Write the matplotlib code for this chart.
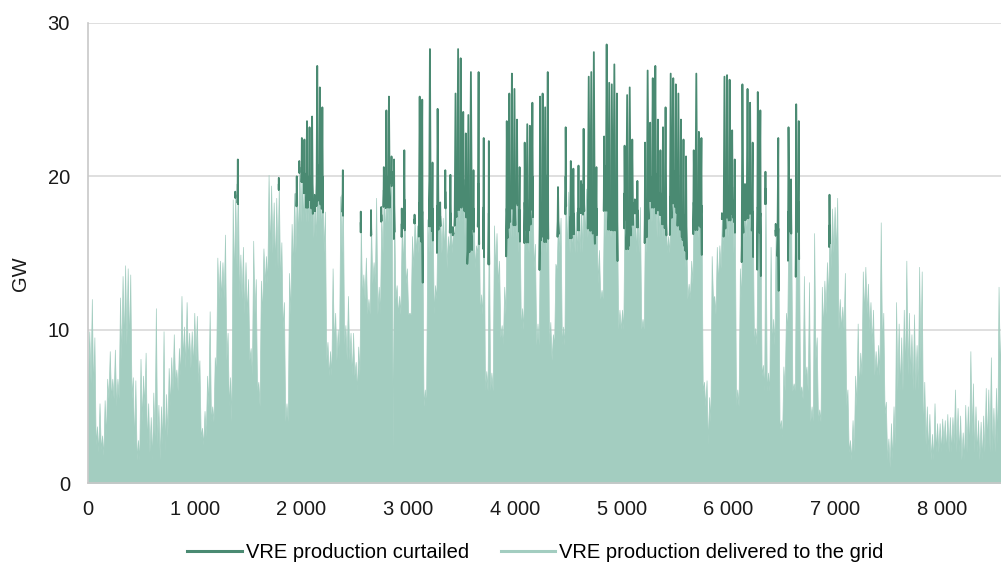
import numpy as np
import matplotlib
matplotlib.use("Agg")
import matplotlib.pyplot as plt
from matplotlib.collections import PolyCollection
from matplotlib.lines import Line2D
from matplotlib.ticker import FuncFormatter

plt.rcParams['font.family'] = ['Liberation Sans', 'DejaVu Sans']

# Daily peak of VRE production delivered to the grid (GW), one value per day
delivered_peak = [
    9.9, 12.0, 9.5, 3.7, 5.2, 3.1, 5.4, 6.8, 8.6, 6.8, 8.7, 6.8, 12.1, 13.5, 14.2, 14.0, 13.6, 6.9, 6.7, 2.8,
    8.1, 7.0, 8.5, 5.2, 4.3, 5.9, 11.4, 5.1, 5.0, 9.9,
    5.8, 7.5, 8.2, 9.7, 7.4, 8.8, 12.2, 10.2, 11.8, 9.8, 9.9, 11.1, 10.9, 8.0, 3.6, 4.7, 7.0, 11.2, 5.0, 8.2,
    14.7, 14.5, 14.4, 16.2, 9.8, 6.9, 18.5, 18.8, 19.5, 14.9, 15.4,
    14.4, 13.3, 8.8, 15.8, 13.3, 6.6, 13.2, 15.3, 14.8, 20.1, 19.4, 18.3, 18.6, 19.5, 15.7, 11.8, 5.2, 13.7,
    16.9, 18.9, 18.9, 20.6, 20.8, 20.2, 19.5, 20.0, 19.5, 18.2, 20.8, 20.6, 20.0,
    17.7, 9.2, 8.6, 14.0, 11.1, 10.0, 18.7, 18.8, 10.3, 12.2, 9.8, 9.8, 7.9, 8.9, 17.0, 13.6, 14.7, 12.0,
    16.9, 14.4, 18.6, 12.8, 17.5, 19.1, 20.0, 19.8, 20.3, 18.3, 12.9, 12.2, 16.9, 18.5,
    14.0, 11.1, 16.1, 17.2, 16.8, 18.3, 17.7, 6.1, 17.2, 19.8, 17.9, 12.9, 18.1, 17.4, 17.3, 19.0, 16.1,
    17.6, 16.4, 18.7, 20.0, 20.2, 19.8, 19.4, 15.7, 16.5, 17.9, 15.5, 19.5, 12.3, 18.0,
    7.3, 17.6, 7.2, 16.8, 16.3, 14.5, 10.3, 12.8, 17.9, 19.1, 20.5, 18.8, 20.2, 17.8, 11.4, 18.3, 17.4,
    18.5, 20.0, 15.6, 10.4, 17.9, 18.3, 17.6, 20.1, 10.5, 9.7, 14.3, 17.3, 17.3, 10.2, 20.0,
    19.0, 17.4, 17.6, 17.7, 17.9, 18.5, 19.5, 19.2, 18.5, 18.2, 17.8, 17.9, 15.2, 12.6, 19.8, 20.7, 18.3,
    18.2, 18.3, 18.3, 11.3, 11.3, 18.9, 16.6, 17.2, 18.3, 18.0, 17.8, 18.0, 10.7, 18.3,
    18.5, 20.0, 20.0, 20.2, 19.7, 18.9, 18.5, 18.3, 16.1, 18.7, 20.4, 20.0, 18.7, 18.0, 17.5, 16.9, 13.0,
    14.5, 18.3, 18.3, 18.3, 18.1, 6.6, 6.7, 5.6, 14.8, 12.2, 15.4, 15.5, 17.4, 18.5,
    19.7, 19.4, 19.3, 18.5, 6.1, 14.0, 17.8, 18.0, 19.5, 19.7, 17.7, 10.1, 18.0, 17.6, 7.7, 19.2, 7.2,
    15.4, 10.7, 16.5, 16.6, 4.1, 7.6, 11.1, 17.7, 17.9, 6.5, 17.8, 18.3, 6.3, 13.5, 7.6,
    13.1, 5.0, 16.3, 9.5, 4.8, 12.8, 13.2, 14.4, 16.8, 17.9, 18.0, 18.6, 12.0, 11.5, 13.7, 6.1, 2.8, 4.1,
    7.0, 10.4, 8.5, 13.8, 14.1, 13.0, 11.8, 11.3, 8.6, 9.0, 17.0, 11.1,
    5.3, 2.9, 3.9, 5.0, 11.8, 10.4, 9.5, 11.3, 14.5, 11.1, 9.7, 11.0, 9.0, 14.1, 13.8, 6.6, 5.0, 4.5, 3.2,
    5.2, 3.9, 3.9, 4.2, 4.1, 4.5, 4.3, 4.3, 6.1, 4.9, 4.4, 3.3, 5.1, 5.0, 8.6, 6.5, 5.0, 4.1, 4.0, 4.4,
    6.2, 6.1, 8.2, 4.9, 6.2, 12.8, 11.4, 7.6,
]

# Lowest delivered production between one day's peak and the next (GW)
night_low = [
    6.5, 6.0, 2.5, 2.0, 2.2, 1.8, 3.0, 5.5, 5.5, 5.5, 5.0, 5.5, 8.0, 9.0, 9.0, 9.0, 5.5, 2.5, 1.5, 1.5,
    4.0, 5.0, 2.5, 2.0, 1.5, 3.0, 2.5, 1.5, 2.5, 2.0,
    3.0, 5.0, 6.0, 6.5, 6.0, 7.0, 8.0, 7.5, 8.0, 7.5, 7.5, 8.0, 6.5, 3.0, 2.5, 3.0, 5.0, 4.0, 4.0, 7.0,
    12.0, 12.0, 12.0, 8.0, 5.0, 4.0, 13.0, 14.0, 12.0, 12.0, 11.0,
    11, 8, 7, 11, 6, 5, 11, 13, 13, 15, 15, 14, 14, 13, 10, 4, 4, 11, 14, 15, 16, 17, 17, 17, 17, 17,
    16, 16, 17, 16, 15,
    8, 7, 7, 9, 8, 8, 15, 9, 8, 8, 7, 7, 6, 7, 12, 12, 11, 11, 13, 13, 11, 11, 15, 16, 17, 17, 2, 12,
    11, 11, 14, 13,
    11, 11, 14, 15, 15, 15, 5, 5, 15, 15, 11, 12, 16, 15, 15, 14, 15, 15, 16, 17, 17, 17, 16, 14, 15,
    15, 14, 15, 11, 11, 6,
    6, 6, 6, 14, 13, 9.5, 9, 11, 15, 16, 16, 16, 15, 10, 10, 15, 15, 16, 14, 9, 9, 15, 15, 15, 9, 8, 9,
    14, 15, 9, 9, 15,
    15, 15, 15, 15, 15, 15, 16, 16, 16, 16, 15, 13, 12, 12, 16, 16, 16, 16, 16, 10, 10, 10, 15, 15, 16,
    16, 15, 15, 10, 10, 15,
    17, 17, 17, 16, 16, 16, 16, 15, 15, 17, 17, 16, 16, 15, 14, 12, 12, 13, 16, 16, 16, 6, 5, 2.5, 4,
    12, 11, 13, 14, 15, 16,
    16, 16, 15, 5, 5, 12, 16, 16, 16, 16, 9, 9, 16, 7, 6, 6, 6, 9, 9, 14, 3.5, 3, 6, 10, 16, 6, 6, 16,
    6, 5.5, 7, 6,
    4, 4, 8, 4, 4, 10, 11, 12, 14, 15, 15, 10, 10, 10, 5, 2, 1.5, 2, 5, 6, 7, 11, 11, 10, 9, 7, 7, 7, 9,
    4.5,
    1.5, 1.0, 1.5, 2.5, 6, 6, 6, 7, 7, 7, 6, 6, 6, 8, 3, 2.5, 2, 1.5, 1.5, 2, 2, 2, 2.5, 2, 2, 2, 2.5, 2,
    2, 1.5, 1.5, 2, 2, 3, 2, 2, 1.5, 1.5, 2, 2.5, 2, 2, 2, 2.5, 7, 5, 3,
]

# Days with curtailment and the curtailed amount at the daily peak (GW)
curtailed_day = [
    57, 58, 74, 81, 82, 83, 84, 85, 86, 87, 88, 89, 90, 91, 99, 106, 110, 114, 115, 116, 117, 118, 119,
    122, 123, 127, 129, 130, 133, 134, 136, 137, 139, 141, 142, 143, 144, 145, 146, 147, 148, 149, 150,
    152, 154, 156, 163, 164, 165, 166, 167, 168, 170, 171, 172, 173, 176, 177, 178, 179, 183, 186, 188,
    189, 191, 192, 193, 195, 196, 197, 198, 201, 202, 203, 204, 205, 206, 209, 210, 211, 212, 213, 214,
    217, 218, 219, 220, 221, 222, 223, 224, 225, 227, 228, 229, 230, 231, 232, 233, 236, 237, 238, 239,
    247, 248, 249, 250, 251, 252, 255, 256, 257, 258, 259, 261, 262, 264, 268, 269, 273, 274, 276, 277,
    289,
]
curtailed_peak = [
    0.2, 1.6, 0.4, 1.1, 0.4, 1.7, 2.2, 4.1, 3.2, 4.4, 0.6, 6.4, 5.2, 4.5, 1.6, 0.7, 0.9, 0.5, 1.5, 4.3,
    5.4, 1.0, 2.8, 1.0, 3.2, 0.3, 6.9, 7.3, 8.5, 3.0, 6.3, 0.9, 1.4, 2.5, 0.3, 6.7, 8.3, 7.5, 4.4, 3.4,
    8.3, 10.3, 2.5, 7.3, 4.5, 4.7, 5.7, 6.3, 6.2, 6.9, 3.5, 2.8, 3.9, 6.0, 4.8, 4.8, 7.3, 7.1, 6.9, 6.7,
    2.0, 3.2, 3.6, 2.9, 2.8, 1.2, 3.6, 8.0, 8.6, 10.3, 2.7, 2.8, 7.9, 7.8, 7.8, 9.0, 7.1, 3.1, 8.7, 8.6,
    4.1, 0.5, 1.9, 3.9, 8.4, 3.5, 6.4, 7.0, 4.0, 2.8, 4.7, 6.2, 8.0, 6.0, 6.0, 6.7, 5.7, 4.9, 4.4, 3.4,
    8.4, 4.6, 4.4, 0.2, 8.0, 6.9, 6.9, 3.7, 2.6, 8.2, 1.5, 6.2, 5.1, 4.5, 7.5, 6.7, 1.1, 0.4, 5.9, 5.5,
    1.9, 6.9, 5.3, 2.0,
]

x_ticks = [0, 1000, 2000, 3000, 4000, 5000, 6000, 7000, 8000]
y_ticks = [0, 10, 20, 30]
series_names = ["VRE production curtailed", "VRE production delivered to the grid"]

DARK = "#4a8a72"
LIGHT = "#a3cdc0"
GRID = "#d9d9d9"
TEXT = "#1a1a1a"
FS = 14.5

# Hourly positions: a peak at midday, a trough at midnight
n = len(delivered_peak)
day = np.arange(n)
hours = np.empty(2 * n + 1)
hours[0] = 0
hours[1::2] = day * 24 + 12
hours[2::2] = day * 24 + 24
delivered = np.empty(2 * n + 1)
delivered[0] = night_low[0]
delivered[1::2] = delivered_peak
delivered[2::2] = night_low

fig = plt.figure(figsize=(10.01, 5.65), dpi=100)
ax = fig.add_axes([0.0879, 0.1451, 0.9121, 0.8142])

ax.fill_between(hours, 0, delivered, color=LIGHT, linewidth=0.5, edgecolor=LIGHT, zorder=2)

# Curtailed production: the part of each day's spike above the delivered peak
polys = []
for d, c in zip(curtailed_day, curtailed_peak):
    h0, hm, h1 = hours[2 * d], hours[2 * d + 1], hours[2 * d + 2]
    lp, pk, ln = delivered[2 * d], delivered[2 * d + 1], delivered[2 * d + 2]
    top = pk + c
    xl = h0 + (hm - h0) * (pk - lp) / (top - lp)
    xr = h1 - (h1 - hm) * (pk - ln) / (top - ln)
    yl = lp + (pk - lp) * (xl - h0) / (hm - h0)
    yr = ln + (pk - ln) * (h1 - xr) / (h1 - hm)
    polys.append([(xl, yl), (hm, top), (xr, yr), (hm, pk)])
ax.add_collection(PolyCollection(polys, facecolor=DARK, edgecolor=DARK, linewidth=1.3, zorder=3))

ax.set_xlim(0, 8555)
ax.set_ylim(0, 30)
ax.set_xticks(x_ticks)
ax.set_yticks(y_ticks)
ax.xaxis.set_major_formatter(FuncFormatter(lambda v, p: f"{int(v):,}".replace(",", " ")))
ax.tick_params(axis="both", length=0, labelsize=FS, colors=TEXT)
ax.tick_params(axis="x", pad=12)
ax.tick_params(axis="y", pad=13)
ax.yaxis.grid(True, color=GRID, linewidth=1.2, zorder=0)
ax.set_axisbelow(True)
for side in ("top", "right"):
    ax.spines[side].set_visible(False)
for side in ("left", "bottom"):
    ax.spines[side].set_color("#c8c8c8")
    ax.spines[side].set_linewidth(1.2)
ax.set_ylabel("GW", fontsize=FS, color=TEXT)
ax.yaxis.set_label_coords(-0.064, 0.455)

handles = [Line2D([], [], color=DARK, linewidth=2.2), Line2D([], [], color=LIGHT, linewidth=2.2)]
fig.legend(handles, series_names, loc="lower center", bbox_to_anchor=(0.535, -0.027), ncol=2,
           frameon=False, fontsize=FS, handlelength=2.7, handletextpad=0.2, columnspacing=1.6)

fig.savefig("out.png", dpi=100)
